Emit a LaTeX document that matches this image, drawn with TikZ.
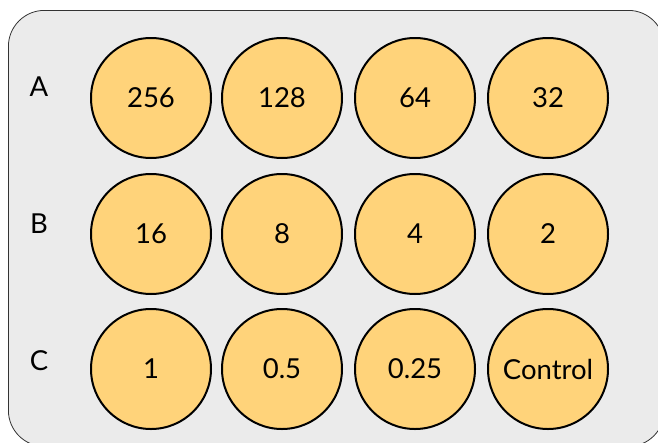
\documentclass[tikz,border=0pt]{standalone}
\usepackage{fontspec}
\setmainfont{Lato}
\definecolor{plategray}{HTML}{EBEBEB}
\definecolor{wellfill}{HTML}{FFD37A}
\tikzset{
  well/.style={circle, draw=black, line width=2pt, fill=wellfill, minimum size=120pt, inner sep=0pt, font=\fontsize{27.5}{30}\selectfont},
  rowlabel/.style={font=\fontsize{27.5}{30}\selectfont, inner sep=0pt}
}
\begin{document}
\begin{tikzpicture}[x=1pt,y=-1pt]
\useasboundingbox (0,0) rectangle (658,442);
\begin{scope}
\clip (0,0) rectangle (658,442);
\node[draw=black!80, line width=0.8pt, fill=plategray, rounded corners=36pt, minimum width=656pt, minimum height=436pt, inner sep=0pt, anchor=north west] (plate) at (8,10) {};
\end{scope}
\node[rowlabel] (la) at (39,87) {A};
\node[rowlabel] (lb) at (39,224) {B};
\node[rowlabel] (lc) at (39,361) {C};
\node[well] (a1) at (151,98) {256};
\node[well] (a2) at (282,98) {128};
\node[well] (a3) at (415,98) {64};
\node[well] (a4) at (548,98) {32};
\node[well] (b1) at (151,234) {16};
\node[well] (b2) at (282,234) {8};
\node[well] (b3) at (415,234) {4};
\node[well] (b4) at (548,234) {2};
\node[well] (c1) at (151,369) {1};
\node[well] (c2) at (282,369) {0.5};
\node[well] (c3) at (415,369) {0.25};
\node[well] (c4) at (548,369) {Control};
\end{tikzpicture}
\end{document}
